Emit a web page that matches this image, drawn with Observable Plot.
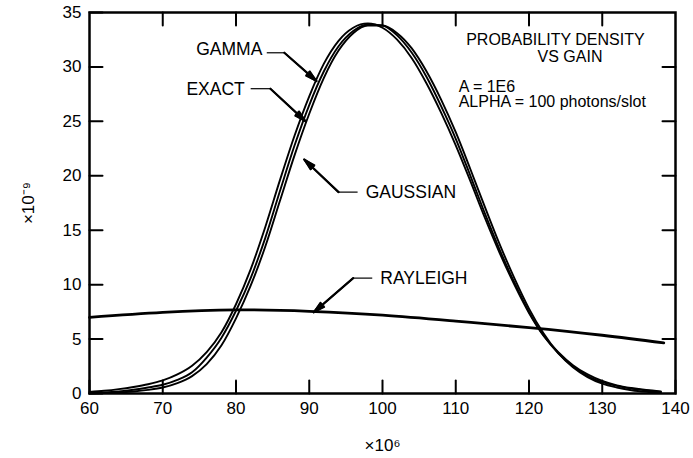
<!DOCTYPE html>
<html><head><meta charset="utf-8">
<script src="https://cdn.jsdelivr.net/npm/d3@7"></script>
<script src="https://cdn.jsdelivr.net/npm/@observablehq/plot@0.6"></script>
<style>
html,body{margin:0;padding:0;background:#fff;}
#chart svg{display:block;}
</style></head><body><div id="chart"></div>
<script>
// Gain (x 10^6) sample points for the three bell-shaped densities
const gain = [60,62,64,66,68,70,72,74,76,78,80,82,84,86,88,90,92,94,96,98,100,102,104,106,108,110,112,114,116,118,120,122,124,126,128,130,132,134,136,138];
// Probability density (x 10^-9)
const gamma    = [0.15,0.25,0.4,0.6,0.85,1.2,1.75,2.55,3.8,5.6,8.2,11.4,15.3,19.6,23.7,27.3,30.3,32.4,33.6,34.0,33.6,32.5,30.8,28.5,25.8,22.8,19.5,16.1,12.9,10.0,7.4,5.3,3.8,2.6,1.75,1.15,0.75,0.5,0.32,0.2];
const exact    = [0.05,0.1,0.2,0.35,0.55,0.8,1.25,1.95,3.3,5.1,7.6,10.6,14.3,18.6,22.8,26.5,29.6,31.9,33.3,33.9,33.8,32.9,31.3,29.1,26.4,23.4,20.0,16.5,13.2,10.2,7.5,5.3,3.7,2.5,1.6,1.05,0.7,0.45,0.28,0.15];
const gaussian = [0.0,0.03,0.08,0.18,0.33,0.55,0.95,1.6,2.7,4.4,6.9,9.9,13.5,17.7,21.9,25.7,29.0,31.5,33.1,33.8,33.8,33.1,31.7,29.6,27.0,24.0,20.6,17.1,13.7,10.6,7.8,5.5,3.7,2.4,1.5,0.9,0.55,0.3,0.16,0.08];
// Rayleigh density
const rayleighGain = [60,70,80,90,100,110,120,130,138.4];
const rayleigh     = [7.0,7.45,7.68,7.55,7.2,6.65,6.05,5.35,4.65];

const xTicks = [60,70,80,90,100,110,120,130,140];
const yTicks = [0,5,10,15,20,25,30,35];
const xTopTicks = [70,80,90,100,110,120,130];
const yRightTicks = [5,10,15,20,25,30];

const titleLines = ["PROBABILITY DENSITY","VS GAIN"];
const noteLines = ["A = 1E6","ALPHA = 100 photons/slot"];

// annotation labels (left group right-aligned, right group left-aligned)
const leftLabels  = ["GAMMA","EXACT"];
const leftLabelX  = [83.6,81.2];
const leftLabelY  = [31.6,27.9];
const rightLabels = ["GAUSSIAN","RAYLEIGH"];
const rightLabelX = [97.7,99.7];
const rightLabelY = [18.5,10.6];
// leaders: horizontal start, bend point, arrow tip
const leadX0 = [84.2,82.0,96.6,98.6];
const leadX1 = [86.6,84.7,94.0,96.0];
const leadY1 = [31.3,28.0,18.5,10.6];
const tipX   = [91.0,89.5,89.3,90.6];
const tipY   = [28.7,25.0,21.5,7.45];

const bell = [];
gain.forEach((g,i)=>{
  bell.push({series:"GAMMA",x:g,y:gamma[i]});
  bell.push({series:"EXACT",x:g,y:exact[i]});
  bell.push({series:"GAUSSIAN",x:g,y:gaussian[i]});
});
const ray = rayleighGain.map((g,i)=>({x:g,y:rayleigh[i]}));
const lLab = leftLabels.map((t,i)=>({t,x:leftLabelX[i],y:leftLabelY[i]}));
const rLab = rightLabels.map((t,i)=>({t,x:rightLabelX[i],y:rightLabelY[i]}));
const leaders = leadX0.map((x0,i)=>({x0,x1:leadX1[i],y:leadY1[i],tx:tipX[i],ty:tipY[i]}));

const font = "Liberation Sans, Arial, sans-serif";
const tk = 13;
// plain tick shape for inward tick marks
const tickShape = {draw(context, l) { context.moveTo(0, 0); context.lineTo(0, -l); }};
const tickOpts = {length: tk, shape: tickShape, anchor: "start", stroke: "black", strokeWidth: 2};

const chart = Plot.plot({
  width: 693, height: 458,
  marginLeft: 89, marginRight: 18, marginTop: 12, marginBottom: 65,
  style: {fontFamily: font, fontSize: "17px", color: "black", background: "white", overflow: "visible"},
  x: {domain: [60,140]},
  y: {domain: [0,35]},
  marks: [
    Plot.axisX({ticks: xTicks, tickSize: 0, tickPadding: 8, label: "×10⁶", labelArrow: "none", labelAnchor: "center", labelOffset: 57, fontSize: 17}),
    Plot.axisY({ticks: yTicks, tickSize: 0, tickPadding: 8, label: "×10⁻⁹", labelArrow: "none", labelAnchor: "center", labelOffset: 68, fontSize: 17}),
    Plot.vector(xTicks, {x: d => d, frameAnchor: "bottom", rotate: 0, ...tickOpts}),
    Plot.vector(xTopTicks, {x: d => d, frameAnchor: "top", rotate: 180, ...tickOpts}),
    Plot.vector(yTicks, {y: d => d, frameAnchor: "left", rotate: 90, ...tickOpts}),
    Plot.vector(yRightTicks, {y: d => d, frameAnchor: "right", rotate: -90, ...tickOpts}),
    Plot.frame({stroke: "black", strokeWidth: 2.5}),
    Plot.line(ray, {x: "x", y: "y", stroke: "black", strokeWidth: 2.8, curve: "natural"}),
    Plot.line(bell, {x: "x", y: "y", z: "series", stroke: "black", strokeWidth: 1.9, curve: "monotone-x"}),
    Plot.link(leaders, {x1: "x0", x2: "x1", y1: "y", y2: "y", stroke: "black", strokeWidth: 1.2}),
    Plot.arrow(leaders, {x1: "x1", y1: "y", x2: "tx", y2: "ty", stroke: "black", strokeWidth: 1.5, headLength: 12, headAngle: 30}),
    Plot.arrow(leaders, {x1: "x1", y1: "y", x2: "tx", y2: "ty", stroke: "black", strokeWidth: 2.2, headLength: 8, headAngle: 20}),
    Plot.text(lLab, {x: "x", y: "y", text: "t", textAnchor: "end", fontSize: 17.5, fill: "black"}),
    Plot.text(rLab, {x: "x", y: "y", text: "t", textAnchor: "start", fontSize: 17.5, fill: "black"}),
    Plot.text([titleLines[0]], {x: 123.6, y: 32.5, text: d => d, fontSize: 16, fill: "black"}),
    Plot.text([titleLines[1]], {x: 125.6, y: 30.9, text: d => d, fontSize: 16, fill: "black"}),
    Plot.text(noteLines, {x: 110.4, y: (d,i) => 28.2 - i*1.4, text: d => d, textAnchor: "start", fontSize: 16, fill: "black"})
  ]
});
document.getElementById("chart").appendChild(chart);
</script>
</body></html>
